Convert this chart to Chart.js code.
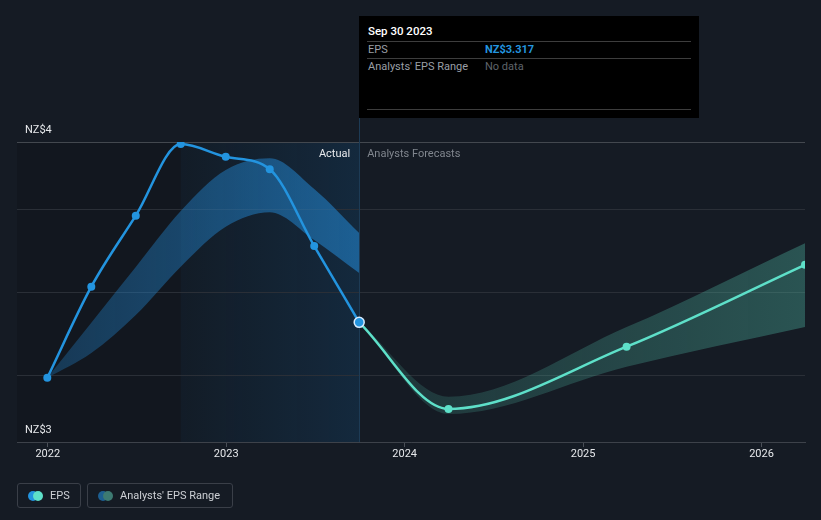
<!DOCTYPE html>
<html>
<head>
<meta charset="utf-8">
<script src="https://cdn.jsdelivr.net/npm/chart.js@4.4.1/dist/chart.umd.min.js"></script>
<style>
html,body{margin:0;padding:0;background:#151b24;width:821px;height:520px;overflow:hidden;font-family:Roboto,"Open Sans",sans-serif;}
#wrap{position:relative;width:821px;height:520px;}
#c{position:absolute;left:0;top:0;}
.tip{position:absolute;left:359px;top:16px;width:340px;height:102px;background:#000;}
.tip .t{position:absolute;font-size:11px;line-height:13px;white-space:nowrap;}
.tip .sep{position:absolute;left:8px;width:324px;height:1px;background:#3d3d3d;}
.leg{position:absolute;top:483px;height:25px;border:1px solid #3a3f48;border-radius:3px;box-sizing:border-box;}
.leg .dot{position:absolute;top:7px;width:10px;height:10px;border-radius:50%;}
.leg .lt{position:absolute;top:5px;font-size:11px;line-height:14px;color:#cdd0d5;white-space:nowrap;}
</style>
</head>
<body>
<div id="wrap">
<canvas id="c" width="821" height="520"></canvas>
<div class="tip">
  <div class="t" style="left:9px;top:9px;color:#fff;font-weight:500;font-size:11.5px;">Sep 30 2023</div>
  <div class="sep" style="top:25px;"></div>
  <div class="t" style="left:9px;top:27px;color:#9a9fa6;">EPS</div>
  <div class="t" style="left:126px;top:27px;color:#2394df;font-weight:700;">NZ$3.317</div>
  <div class="sep" style="top:42px;"></div>
  <div class="t" style="left:9px;top:44px;color:#9a9fa6;">Analysts' EPS Range</div>
  <div class="t" style="left:126px;top:44px;color:#5f646b;">No data</div>
  <div class="sep" style="top:93px;"></div>
</div>
<div class="leg" style="left:17px;width:64px;">
  <div class="dot" style="left:10px;background:#2394df;"></div>
  <div class="dot" style="left:15px;background:#5ee0c9;"></div>
  <div class="lt" style="left:32px;">EPS</div>
</div>
<div class="leg" style="left:87px;width:146px;">
  <div class="dot" style="left:10px;background:#1d5f91;"></div>
  <div class="dot" style="left:15px;background:#3d7a72;"></div>
  <div class="lt" style="left:32px;">Analysts' EPS Range</div>
</div>
</div>
<script>
// ---- data ----
const actualDates = ['2021-12-31','2022-03-31','2022-06-30','2022-09-30','2022-12-31','2023-03-31','2023-06-30','2023-09-30'];
const actualEps   = [3.107, 3.452, 3.721, 3.992, 3.944, 3.897, 3.606, 3.317];
const pastRangeHigh = [3.107, 3.316, 3.527, 3.739, 3.894, 3.938, 3.822, 3.655];
const pastRangeLow  = [3.107, 3.201, 3.345, 3.528, 3.679, 3.734, 3.629, 3.504];
const forecastDates = ['2023-09-30','2024-03-31','2025-03-31','2026-03-31'];
const forecastEps   = [3.317, 2.989, 3.225, 3.535];
const forecastHigh  = [3.317, 3.035, 3.299, 3.617];
const forecastLow   = [3.317, 2.970, 3.149, 3.299];
const xTickYears = [2022, 2023, 2024, 2025, 2026];
const yGridValues = [2.864, 3.117, 3.432, 3.746, 4.0];
const xRangeDates = ['2021-10-30', '2026-03-31'];
const pastStartDate = '2022-09-30';
const actualEndDate = '2023-09-30';

function toYear(s){
  const [y,m,d] = s.split('-').map(Number);
  const a = Date.UTC(y,0,1), b = Date.UTC(y+1,0,1);
  return y + (Date.UTC(y,m-1,d) - a) / (b - a);
}
const pts = (dates, vals) => dates.map((d,i) => ({x: toYear(d), y: vals[i]}));
const xMin = toYear(xRangeDates[0]), xMax = toYear(xRangeDates[1]);
const yMin = yGridValues[0], yMax = yGridValues[yGridValues.length-1];

const BLUE = '#2394df', TEAL = '#5ee0c9';

function hGrad(chart, x0v, x1v, c0, c1){
  const ca = chart.chartArea;
  if (!ca) return c1;
  const xs = chart.scales.x;
  const g = chart.ctx.createLinearGradient(xs.getPixelForValue(x0v), 0, xs.getPixelForValue(x1v), 0);
  g.addColorStop(0, c0); g.addColorStop(1, c1);
  return g;
}

const bgPlugin = {
  id: 'bgRegions',
  beforeDraw(chart){
    const {ctx, chartArea: ca, scales: {x}} = chart;
    const xe = x.getPixelForValue(toYear(actualEndDate));
    const xp = x.getPixelForValue(toYear(pastStartDate));
    ctx.save();
    ctx.fillStyle = 'rgba(0,0,0,0.13)';
    ctx.fillRect(ca.left, ca.top, xe - ca.left, ca.bottom - ca.top);
    const g = ctx.createLinearGradient(xp, 0, xe, 0);
    g.addColorStop(0, 'rgba(33,150,243,0.04)');
    g.addColorStop(1, 'rgba(33,150,243,0.14)');
    ctx.fillStyle = g;
    ctx.fillRect(xp, ca.top, xe - xp, ca.bottom - ca.top);
    ctx.restore();
  },
  beforeDatasetsDraw(chart){
    const {ctx, chartArea: ca, scales: {x}} = chart;
    const xe = Math.round(x.getPixelForValue(toYear(actualEndDate))) + 0.5;
    ctx.save();
    ctx.strokeStyle = '#1d3b55';
    ctx.lineWidth = 1;
    ctx.beginPath(); ctx.moveTo(xe, 118); ctx.lineTo(xe, ca.bottom); ctx.stroke();
    ctx.restore();
  },
  afterDatasetsDraw(chart){
    const {ctx, chartArea: ca, scales: {x}} = chart;
    const xe = x.getPixelForValue(toYear(actualEndDate));
    ctx.save();
    ctx.font = '11px Roboto, "Open Sans", sans-serif';
    ctx.textBaseline = 'middle';
    ctx.textAlign = 'right';
    ctx.fillStyle = '#e8eaed';
    ctx.fillText('Actual', xe - 9, ca.top + 12);
    ctx.textAlign = 'left';
    ctx.fillStyle = '#80868e';
    ctx.fillText('Analysts Forecasts', xe + 8, ca.top + 12);
    ctx.restore();
  }
};

const lastIdx = actualEps.length - 1;

new Chart(document.getElementById('c'), {
  type: 'line',
  data: {
    datasets: [
      {
        label: 'EPS', order: 1,
        data: pts(actualDates, actualEps),
        borderColor: BLUE, borderWidth: 2.5, cubicInterpolationMode: 'monotone', fill: false,
        pointRadius: c => c.dataIndex === lastIdx ? 5 : 4,
        pointBackgroundColor: BLUE,
        pointBorderColor: c => c.dataIndex === lastIdx ? '#d8ecff' : BLUE,
        pointBorderWidth: c => c.dataIndex === lastIdx ? 1.5 : 0,
        pointHoverRadius: 4
      },
      {
        label: 'EPS forecast', order: 2,
        data: pts(forecastDates, forecastEps),
        borderColor: TEAL, borderWidth: 2.5, cubicInterpolationMode: 'monotone', fill: false,
        pointRadius: c => c.dataIndex === 0 ? 0 : 4,
        pointBackgroundColor: TEAL, pointBorderWidth: 0
      },
      {
        label: 'Past range high', order: 3,
        data: pts(actualDates, pastRangeHigh),
        borderWidth: 0, pointRadius: 0, cubicInterpolationMode: 'monotone',
        fill: '+1',
        backgroundColor: c => hGrad(c.chart, toYear(actualDates[0]), toYear(actualEndDate), 'rgba(35,135,210,0.3)', 'rgba(35,135,210,0.58)')
      },
      {
        label: 'Past range low', order: 4,
        data: pts(actualDates, pastRangeLow),
        borderWidth: 0, pointRadius: 0, cubicInterpolationMode: 'monotone', fill: false
      },
      {
        label: 'Forecast range high', order: 5,
        data: pts(forecastDates, forecastHigh),
        borderWidth: 0, pointRadius: 0, cubicInterpolationMode: 'monotone',
        fill: '+1',
        backgroundColor: c => hGrad(c.chart, toYear(actualEndDate), xMax, 'rgba(80,185,165,0.16)', 'rgba(80,185,165,0.36)')
      },
      {
        label: 'Forecast range low', order: 6,
        data: pts(forecastDates, forecastLow),
        borderWidth: 0, pointRadius: 0, cubicInterpolationMode: 'monotone', fill: false
      }
    ]
  },
  options: {
    responsive: false, animation: false, devicePixelRatio: 1,
    layout: {padding: {left: 17, right: 16, top: 142, bottom: 48}},
    plugins: {legend: {display: false}, tooltip: {enabled: false}},
    events: [],
    scales: {
      x: {
        type: 'linear', min: xMin, max: xMax,
        afterBuildTicks: s => { s.ticks = xTickYears.map(v => ({value: v})); },
        afterFit: s => { s.height = 30; },
        ticks: {color: '#e6e8eb', font: {family: 'Roboto', size: 11}, padding: 1, maxRotation: 0, autoSkip: false, callback: v => String(v)},
        grid: {drawOnChartArea: false, drawTicks: true, tickLength: 5, tickColor: '#4a4f57', color: '#4a4f57'},
        border: {display: true, color: '#3d424a', width: 1}
      },
      y: {
        type: 'linear', min: yMin, max: yMax,
        afterBuildTicks: s => { s.ticks = yGridValues.map(v => ({value: v})); },
        afterFit: s => { s.width = 0; },
        ticks: {
          mirror: true, padding: 8, labelOffset: -12, color: '#e6e8eb',
          font: {family: 'Roboto', size: 11},
          callback: (v, i, t) => (i === 0 || i === t.length - 1) ? 'NZ$' + Math.round(v) : ''
        },
        grid: {drawTicks: false, color: c => (c.tick && c.tick.value === yMax) ? '#43484f' : '#2a2f37'},
        border: {display: false}
      }
    }
  },
  plugins: [bgPlugin]
});
</script>
</body>
</html>
